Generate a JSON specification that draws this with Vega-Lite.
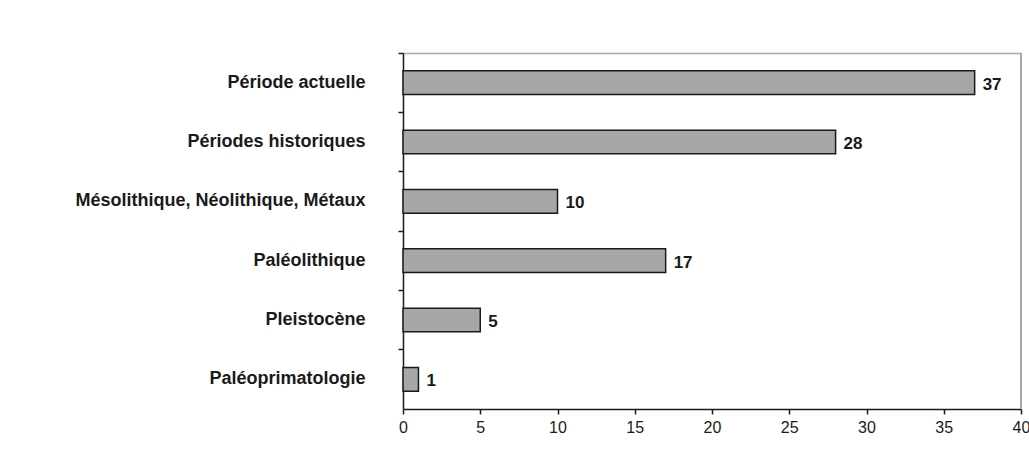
{
  "$schema": "https://vega.github.io/schema/vega-lite/v6.json",
  "autosize": "none",
  "padding": {"left": 403, "top": 53, "right": 8, "bottom": 46},
  "width": 618,
  "height": 356,
  "background": "white",
  "config": {
    "font": "Liberation Sans",
    "view": {"stroke": null}
  },
  "data": {
    "values": [
      {"periode": "Période actuelle", "n": 37},
      {"periode": "Périodes historiques", "n": 28},
      {"periode": "Mésolithique, Néolithique, Métaux", "n": 10},
      {"periode": "Paléolithique", "n": 17},
      {"periode": "Pleistocène", "n": 5},
      {"periode": "Paléoprimatologie", "n": 1}
    ]
  },
  "resolve": {"axis": {"x": "independent"}},
  "layer": [
    {
      "mark": {"type": "rule", "color": "#a8a8a8", "strokeWidth": 1.5},
      "encoding": {
        "x": {
          "datum": 40,
          "type": "quantitative",
          "scale": {"domain": [0, 40], "nice": false},
          "axis": null
        }
      }
    },
    {
      "mark": {"type": "bar", "fill": "#a7a7a9", "stroke": "#1a1a1a", "strokeWidth": 1.5, "height": {"band": 0.4}},
      "encoding": {
        "y": {
          "field": "periode",
          "type": "nominal",
          "sort": null,
          "scale": {"paddingInner": 0, "paddingOuter": 0},
          "axis": {
            "title": null,
            "domainColor": "#1a1a1a",
            "domainWidth": 1.5,
            "tickColor": "#1a1a1a",
            "tickWidth": 1.5,
            "tickSize": 5,
            "bandPosition": 0,
            "labelFont": "Liberation Sans",
            "labelFontSize": 18,
            "labelFontWeight": "bold",
            "labelColor": "#1a1a1a",
            "labelPadding": 33,
            "labelLimit": 400
          }
        },
        "x": {
          "field": "n",
          "type": "quantitative",
          "scale": {"domain": [0, 40], "nice": false},
          "axis": {
            "orient": "bottom",
            "title": null,
            "values": [0, 5, 10, 15, 20, 25, 30, 35, 40],
            "grid": false,
            "domainColor": "#1a1a1a",
            "domainWidth": 1.5,
            "tickColor": "#1a1a1a",
            "tickWidth": 1.5,
            "tickSize": 5,
            "labelFont": "Liberation Sans",
            "labelFontSize": 16,
            "labelColor": "#1a1a1a",
            "labelPadding": 5,
            "labelFlush": false,
            "labelOverlap": false
          }
        }
      }
    },
    {
      "mark": {"type": "text", "align": "left", "baseline": "middle", "dx": 8, "dy": 2, "fontWeight": "bold", "fontSize": 17, "font": "Liberation Sans", "color": "#1a1a1a"},
      "encoding": {
        "y": {"field": "periode", "type": "nominal", "sort": null},
        "x": {
          "field": "n",
          "type": "quantitative",
          "axis": {
            "orient": "top",
            "title": null,
            "labels": false,
            "ticks": false,
            "grid": false,
            "domainColor": "#a8a8a8",
            "domainWidth": 1.5
          }
        },
        "text": {"field": "n", "type": "quantitative"}
      }
    }
  ]
}
